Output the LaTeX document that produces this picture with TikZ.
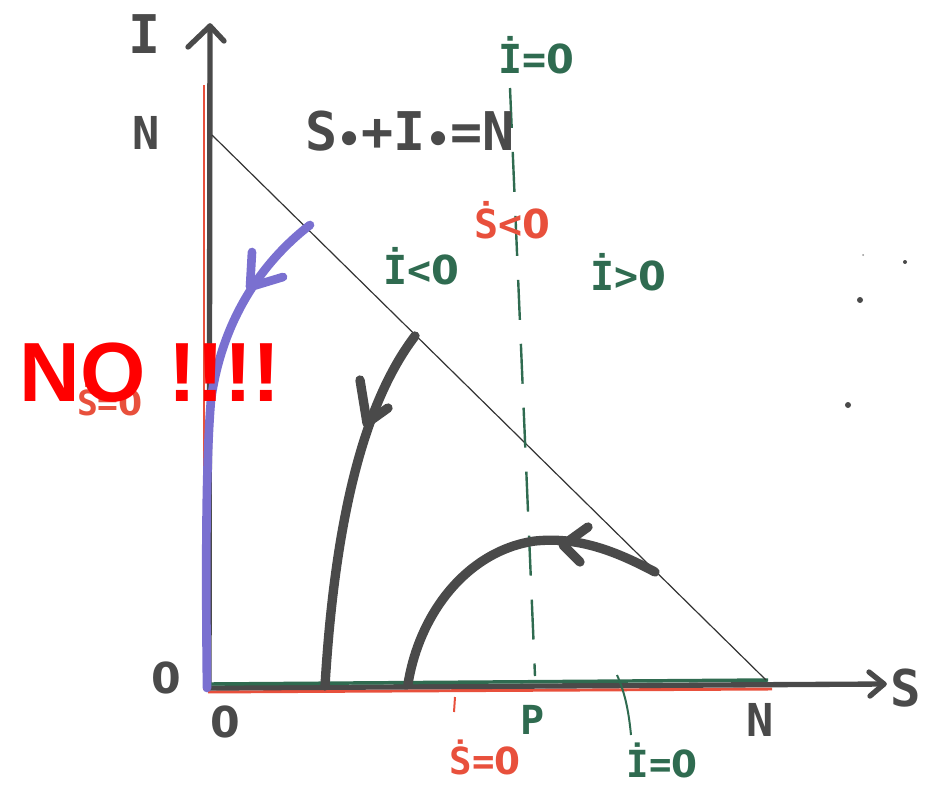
\documentclass[tikz,border=0pt]{standalone}
\usepackage{fontspec}
\setmainfont{DejaVu Sans Mono}
\newfontfamily\nofont{Liberation Sans}
\newfontfamily\zerofont{DejaVu Sans}
\newcommand{\Zr}{{\zerofont 0}}
\definecolor{pen}{HTML}{4A4A4A}
\definecolor{grn}{HTML}{2F6B50}
\definecolor{rd}{HTML}{E8503C}
\definecolor{blu}{HTML}{7A70D0}
\definecolor{nored}{HTML}{FF0000}
\begin{document}
\begin{tikzpicture}[x=0.75pt,y=-0.75pt,
  lbl/.style={font=\fontsize{#1}{#1}\selectfont\bfseries, inner sep=0pt},
  traj/.style={line width=7pt, line cap=round, line join=round, draw=pen},
  bluetraj/.style={line width=6.5pt, line cap=round, line join=round, draw=blu},
  axisline/.style={line width=4pt, line cap=round, line join=round, draw=pen},
  redline/.style={line width=2.2pt, draw=rd},
  greenline/.style={line width=2.6pt, draw=grn},
  nullcline/.style={line width=1.8pt, draw=grn, dash pattern=on 30pt off 18pt},
  diag/.style={line width=0.9pt, draw=black!80}]
\useasboundingbox (0,0) rectangle (927,785);

% red and green axis nullclines
\draw[redline] (204,85) -- (204,690);
\draw[redline] (208,692) -- (772,689);
% axes
\coordinate (O) at (209,688);
\coordinate (Itop) at (210,26);
\coordinate (Send) at (884,684);
\draw[axisline] (O) -- (Itop);
\draw[axisline] (188,47) -- (Itop) -- (224,41);
\draw[axisline] (O) -- (Send);
\draw[axisline] (869,672) -- (Send) -- (870,696);
\draw[greenline] (210,684) -- (768,680);

% diagonal S0+I0=N
\coordinate (Ntop) at (212,135);
\coordinate (Nright) at (766,680);
\draw[diag] (Ntop) -- (Nright);

% dashed vertical nullcline I'=0 at S=P
\coordinate (Pt) at (510,88);
\coordinate (Pb) at (535,676);
\draw[nullcline] (Pt) -- (Pb);

% trajectories
\draw[bluetraj] (310,225) .. controls (262,262) and (222,320) .. (211,400)
  .. controls (205,470) and (206,600) .. (207,688);
\draw[bluetraj] (252,252) -- (250,287) -- (283,277);

\draw[traj] (415,336) .. controls (370,395) and (336,500) .. (325,686);
\draw[traj] (360,380) -- (367,423) -- (388,408);

\draw[traj] (655,572) .. controls (610,548) and (575,537) .. (535,541)
  .. controls (470,550) and (420,610) .. (408,684);
\draw[traj] (588,527) -- (563,545) -- (580,562);

% small ticks near bottom
\draw[line width=1.5pt, draw=rd] (455,697) -- (454,712);
\draw[line width=1.5pt, draw=grn] (617,675) .. controls (626,695) and (629,715) .. (631,735);

% labels
\node[lbl=40, text=pen] (Ilab) at (145,34) {I};
\node[lbl=38, text=pen] (Slab) at (906,688) {S};
\node[lbl=34, text=pen] (Nleft) at (146,133) {N};
\node[lbl=34, text=pen] (Nbot) at (760,720) {N};
\node[lbl=32, text=pen] (zeroI) at (166,678) {\Zr};
\node[lbl=32, text=pen] (zeroS) at (225,722) {\Zr};
\node[lbl=40, text=pen] (eq) at (410,132) {S\raisebox{-2pt}{\fontsize{30}{30}\selectfont\textbullet}+I\raisebox{-2pt}{\fontsize{30}{30}\selectfont\textbullet}=N};
\node[lbl=30, text=grn] (Itop0) at (536,55) {\.I=\Zr};
\node[lbl=30, text=rd] (Sneg) at (512,220) {\.S<\Zr};
\node[lbl=30, text=grn] (Ineg) at (421,266) {\.I<\Zr};
\node[lbl=30, text=grn] (Ipos) at (628,272) {\.I>\Zr};
\node[lbl=30, text=grn] (Plab) at (533,720) {P};
\node[lbl=28, text=rd] (S0b) at (485,757) {\.S=\Zr};
\node[lbl=28, text=grn] (I0b) at (662,760) {\.I=\Zr};
\node[lbl=26, text=rd] (S0l) at (110,400) {\.S=\Zr};

% specks
\fill[pen] (860,300) circle (3);
\fill[pen] (848,405) circle (3);
\fill[pen] (905,262) circle (2);
\fill[pen!60] (863,255) circle (1);

% overlay
\node[font=\nofont\fontsize{63}{63}\selectfont\bfseries, text=nored, inner sep=0pt] (no) at (150,373) {NO !!!!};
\end{tikzpicture}
\end{document}
